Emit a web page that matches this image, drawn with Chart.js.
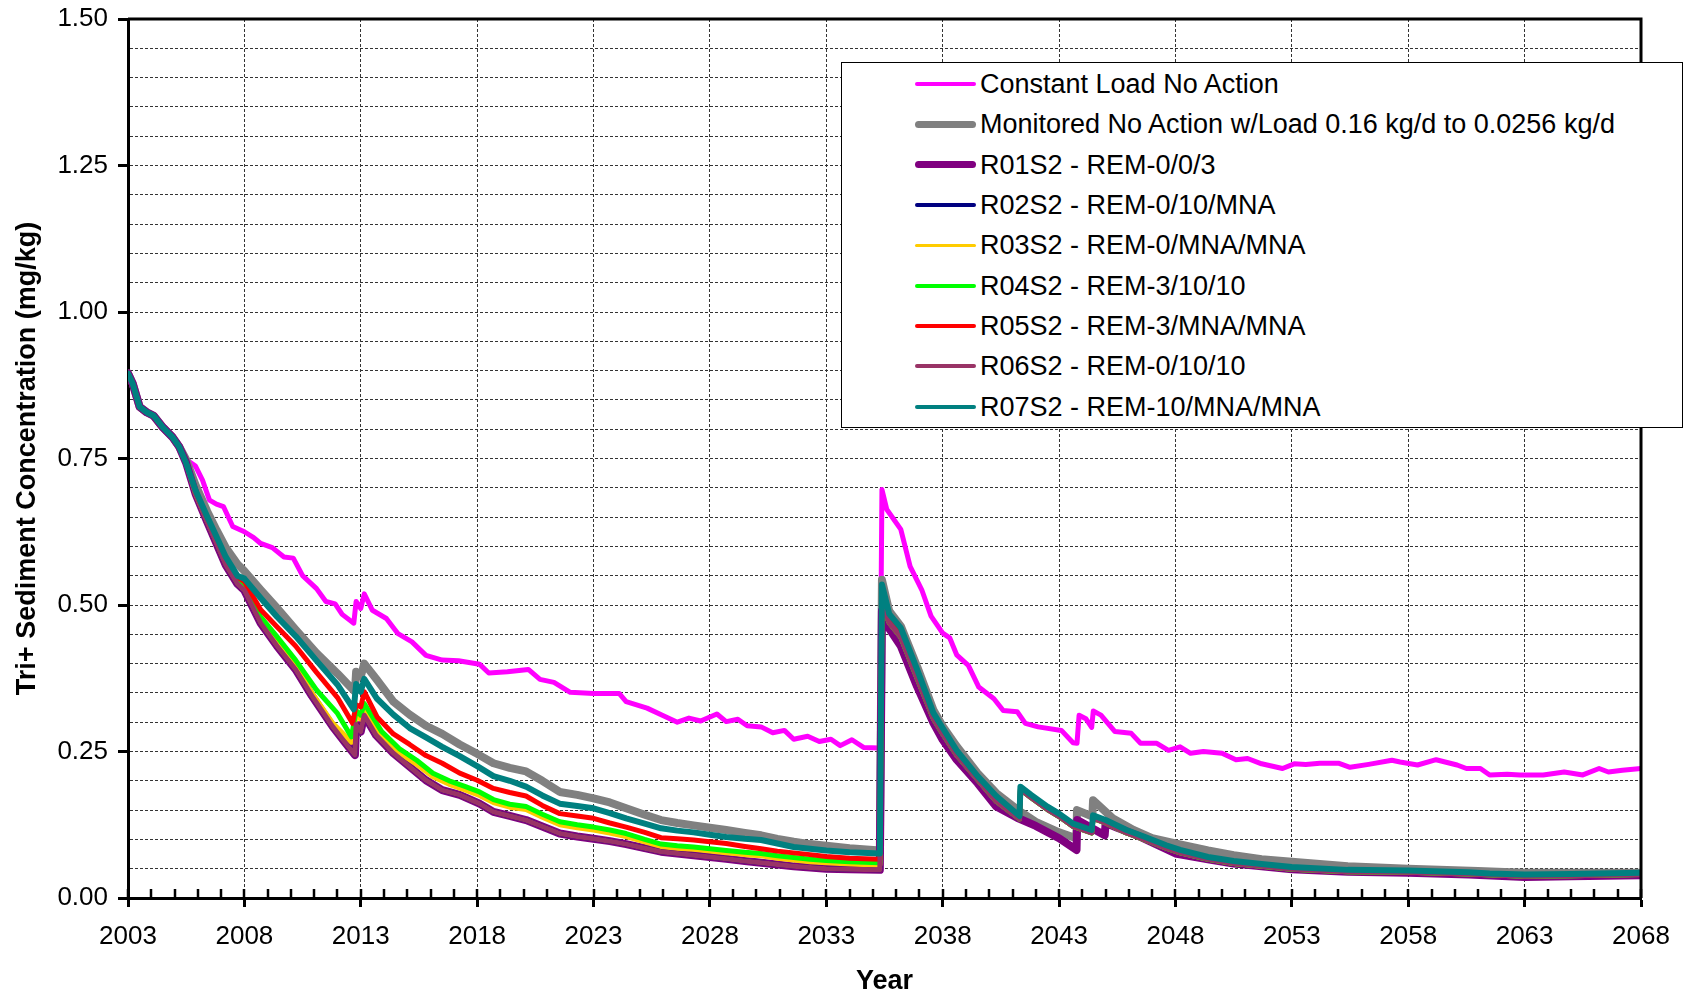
<!DOCTYPE html>
<html>
<head>
<meta charset="utf-8">
<script src="https://cdn.jsdelivr.net/npm/chart.js@4.4.0/dist/chart.umd.min.js"></script>
<style>
  body { margin: 0; background: #fff; }
  #wrap { position: relative; width: 1684px; height: 996px; }
  #legendBox {
    position: absolute; left: 841px; top: 62px; width: 840px; height: 364px;
    border: 1px solid #000; background: #fff;
    font-family: "Liberation Sans", Arial, sans-serif; font-size: 27px; color: #000;
  }
  .row { position: absolute; left: 0; width: 100%; height: 40px; }
  .swatch { position: absolute; left: 73px; width: 61px; border-radius: 4px; }
  .label { position: absolute; left: 138px; top: 0; white-space: nowrap; line-height: 40px; }
</style>
</head>
<body>
<div id="wrap">
  <canvas id="chart" width="1684" height="996"></canvas>
  <div id="legendBox"></div>
</div>
<script>
// x axis ticks (years) and y axis labelled ticks
const yearTicks = [2003, 2008, 2013, 2018, 2023, 2028, 2033, 2038, 2043, 2048, 2053, 2058, 2063, 2068];
const concTicks = [0, 0.25, 0.5, 0.75, 1.0, 1.25, 1.5];

const seriesNames = [
  'Constant Load No Action',
  'Monitored No Action w/Load 0.16 kg/d to 0.0256 kg/d',
  'R01S2 - REM-0/0/3',
  'R02S2 - REM-0/10/MNA',
  'R03S2 - REM-0/MNA/MNA',
  'R04S2 - REM-3/10/10',
  'R05S2 - REM-3/MNA/MNA',
  'R06S2 - REM-0/10/10',
  'R07S2 - REM-10/MNA/MNA'
];
const seriesColors = ['#ff00ff', '#808080', '#800080', '#000080', '#ffcc00', '#00ff00', '#ff0000', '#993366', '#008080'];
const lineWidths = [5, 8, 8, 5, 5, 5, 5, 5, 6];
const legendWidths = [3.5, 6.5, 7, 4, 3.5, 4, 4.5, 4, 4];

// [year, mg/kg] pairs
const startAll = [[2003.0, 0.895], [2003.2, 0.878], [2003.5, 0.838], [2003.8, 0.829], [2004.1, 0.823],
  [2004.5, 0.803], [2004.9, 0.787], [2005.2, 0.77]];

const constantLoad = [[2005.5, 0.748], [2005.9, 0.737], [2006.2, 0.713], [2006.5, 0.679], [2006.8, 0.672],
  [2007.1, 0.668], [2007.5, 0.634], [2008.0, 0.625], [2008.4, 0.615], [2008.7, 0.605], [2009.2, 0.598],
  [2009.7, 0.582], [2010.1, 0.58], [2010.5, 0.55], [2011.1, 0.528], [2011.5, 0.506], [2011.9, 0.502],
  [2012.2, 0.484], [2012.7, 0.469], [2012.8, 0.506], [2013.0, 0.494], [2013.15, 0.519], [2013.5, 0.491],
  [2014.1, 0.477], [2014.6, 0.451], [2015.2, 0.437], [2015.8, 0.414], [2016.5, 0.406], [2017.2, 0.405],
  [2018.1, 0.399], [2018.5, 0.384], [2019.3, 0.386], [2020.2, 0.39], [2020.7, 0.373], [2021.3, 0.368],
  [2022.0, 0.351], [2023.0, 0.349], [2024.1, 0.349], [2024.4, 0.335], [2025.3, 0.324], [2026.0, 0.311],
  [2026.6, 0.30], [2027.1, 0.307], [2027.6, 0.302], [2028.3, 0.314], [2028.7, 0.301], [2029.2, 0.305],
  [2029.6, 0.294], [2030.2, 0.292], [2030.7, 0.282], [2031.2, 0.286], [2031.6, 0.271], [2032.2, 0.276],
  [2032.7, 0.267], [2033.2, 0.271], [2033.6, 0.26], [2034.1, 0.27], [2034.6, 0.257], [2035.3, 0.256],
  [2035.39, 0.697], [2035.6, 0.663], [2036.2, 0.629], [2036.6, 0.566], [2037.1, 0.526], [2037.5, 0.481],
  [2038.0, 0.452], [2038.3, 0.444], [2038.6, 0.415], [2039.1, 0.397], [2039.55, 0.36], [2040.2, 0.34],
  [2040.6, 0.32], [2041.2, 0.318], [2041.55, 0.298], [2042.1, 0.292], [2043.1, 0.286], [2043.6, 0.265],
  [2043.77, 0.264], [2043.86, 0.312], [2044.15, 0.306], [2044.4, 0.291], [2044.47, 0.319], [2044.8, 0.312],
  [2045.4, 0.284], [2046.1, 0.281], [2046.5, 0.264], [2047.2, 0.264], [2047.7, 0.252], [2048.2, 0.258],
  [2048.65, 0.247], [2049.2, 0.25], [2050.0, 0.247], [2050.6, 0.236], [2051.1, 0.238], [2051.7, 0.229],
  [2052.6, 0.221], [2053.1, 0.229], [2053.6, 0.228], [2054.2, 0.23], [2055.0, 0.23], [2055.5, 0.223],
  [2056.3, 0.228], [2057.3, 0.235], [2057.65, 0.232], [2058.4, 0.227], [2059.2, 0.236], [2060.1, 0.227],
  [2060.5, 0.221], [2061.1, 0.221], [2061.5, 0.21], [2062.25, 0.211], [2062.8, 0.21], [2063.8, 0.21],
  [2064.7, 0.215], [2065.5, 0.21], [2066.2, 0.221], [2066.6, 0.215], [2067.2, 0.218], [2068.0, 0.221]];

const monitored = [[2005.5, 0.748], [2005.9, 0.705], [2006.4, 0.66], [2006.8, 0.628], [2007.2, 0.598],
  [2007.7, 0.57], [2008.0, 0.558], [2008.7, 0.526], [2009.4, 0.495], [2010.2, 0.458], [2011.1, 0.418],
  [2012.0, 0.383], [2012.75, 0.352], [2012.8, 0.386], [2013.0, 0.378], [2013.15, 0.40], [2013.7, 0.372],
  [2014.4, 0.335], [2015.1, 0.313], [2015.8, 0.294], [2016.5, 0.28], [2017.25, 0.262], [2018.0, 0.246],
  [2018.7, 0.23], [2019.4, 0.222], [2020.1, 0.216], [2020.8, 0.2], [2021.55, 0.181], [2022.3, 0.176],
  [2023.0, 0.17], [2023.7, 0.163], [2024.4, 0.153], [2025.2, 0.142], [2025.9, 0.133], [2026.6, 0.128],
  [2027.3, 0.124], [2028.0, 0.12], [2028.7, 0.116], [2029.5, 0.111], [2030.2, 0.107], [2030.9, 0.101],
  [2031.6, 0.096], [2032.3, 0.092], [2033.0, 0.089], [2034.0, 0.085], [2035.3, 0.081], [2035.39, 0.543],
  [2035.7, 0.49], [2036.2, 0.464], [2036.9, 0.395], [2037.6, 0.321], [2038.0, 0.293], [2038.6, 0.259],
  [2039.5, 0.213], [2040.3, 0.179], [2041.2, 0.151], [2042.0, 0.13], [2043.0, 0.112], [2043.74, 0.102],
  [2043.77, 0.15], [2044.43, 0.139], [2044.46, 0.167], [2045.3, 0.136], [2046.2, 0.116], [2047.0, 0.102],
  [2048.0, 0.093], [2049.4, 0.081], [2050.5, 0.073], [2051.7, 0.066], [2053.0, 0.062], [2055.4, 0.054],
  [2058.0, 0.05], [2061.0, 0.046], [2063.0, 0.043], [2068.0, 0.043]];

// R01 / R02 / R06 share the lowest path until 2035
const lowGroupPre = [[2005.5, 0.742], [2005.9, 0.69], [2006.4, 0.642], [2006.8, 0.605], [2007.2, 0.568],
  [2007.7, 0.536], [2008.0, 0.525], [2008.7, 0.469], [2009.4, 0.43], [2010.2, 0.39], [2010.9, 0.345],
  [2011.8, 0.292], [2012.35, 0.264], [2012.75, 0.244], [2012.8, 0.296], [2013.0, 0.284], [2013.15, 0.312],
  [2013.65, 0.278], [2014.4, 0.247], [2015.1, 0.224], [2015.8, 0.201], [2016.5, 0.184], [2017.25, 0.176],
  [2018.1, 0.161], [2018.7, 0.147], [2019.4, 0.14], [2020.1, 0.133], [2020.8, 0.122], [2021.55, 0.11],
  [2022.3, 0.105], [2023.0, 0.101], [2023.7, 0.097], [2024.4, 0.092], [2025.2, 0.085], [2025.9, 0.079],
  [2026.6, 0.076], [2027.3, 0.073], [2028.0, 0.07], [2028.7, 0.067], [2029.5, 0.063], [2030.2, 0.06],
  [2030.9, 0.057], [2031.6, 0.054], [2032.3, 0.052], [2033.0, 0.05], [2034.0, 0.049], [2035.3, 0.048]];

const r01Post = [[2035.39, 0.49], [2035.7, 0.46], [2036.2, 0.43], [2036.9, 0.361], [2037.6, 0.299],
  [2038.0, 0.27], [2038.6, 0.236], [2039.5, 0.196], [2040.3, 0.156], [2041.2, 0.137], [2042.0, 0.123],
  [2043.0, 0.102], [2043.75, 0.082], [2043.78, 0.133], [2044.96, 0.107], [2045.0, 0.128], [2045.5, 0.12],
  [2046.4, 0.106], [2048.0, 0.076], [2049.4, 0.066], [2050.5, 0.059], [2051.7, 0.054], [2053.0, 0.049],
  [2055.4, 0.045], [2058.0, 0.043], [2060.6, 0.04], [2063.0, 0.036], [2065.0, 0.037], [2068.0, 0.039]];

// R02, R03, R04, R06 after the 2035 event
const remGroupPost = [[2035.39, 0.50], [2035.7, 0.47], [2036.2, 0.445], [2036.9, 0.375], [2037.6, 0.306],
  [2038.0, 0.28], [2038.6, 0.244], [2039.5, 0.202], [2040.3, 0.165], [2041.3, 0.135], [2041.34, 0.185],
  [2041.8, 0.171], [2042.5, 0.151], [2043.0, 0.139], [2043.6, 0.122], [2044.4, 0.111], [2044.46, 0.136],
  [2045.0, 0.128], [2045.9, 0.111], [2046.7, 0.099], [2047.6, 0.085], [2048.2, 0.077], [2049.4, 0.066],
  [2050.5, 0.059], [2051.7, 0.054], [2053.0, 0.049], [2055.4, 0.045], [2058.0, 0.044], [2060.6, 0.041],
  [2063.0, 0.037], [2065.0, 0.038], [2068.0, 0.04]];

const r03Pre = [[2005.5, 0.742], [2005.9, 0.69], [2006.4, 0.643], [2006.8, 0.607], [2007.2, 0.571],
  [2007.7, 0.539], [2008.0, 0.528], [2008.7, 0.473], [2009.4, 0.435], [2010.2, 0.395], [2010.9, 0.35],
  [2011.8, 0.298], [2012.6, 0.266], [2012.8, 0.312], [2013.0, 0.305], [2013.15, 0.325], [2013.9, 0.276],
  [2014.65, 0.248], [2015.4, 0.228], [2016.1, 0.207], [2016.8, 0.194], [2017.5, 0.184], [2018.1, 0.175],
  [2018.7, 0.163], [2019.4, 0.155], [2020.1, 0.151], [2020.8, 0.138], [2021.55, 0.125], [2022.3, 0.12],
  [2023.0, 0.116], [2023.7, 0.111], [2024.4, 0.105], [2025.2, 0.096], [2025.9, 0.088], [2026.6, 0.085],
  [2027.3, 0.083], [2028.0, 0.08], [2028.7, 0.077], [2029.5, 0.074], [2030.2, 0.072], [2030.9, 0.068],
  [2031.6, 0.065], [2032.3, 0.062], [2033.0, 0.06], [2034.0, 0.058], [2035.3, 0.056]];

const r04Pre = [[2005.5, 0.742], [2005.9, 0.692], [2006.4, 0.645], [2006.8, 0.61], [2007.2, 0.574],
  [2007.7, 0.542], [2008.0, 0.531], [2008.7, 0.48], [2009.4, 0.446], [2010.2, 0.406], [2011.1, 0.355],
  [2012.0, 0.315], [2012.6, 0.275], [2012.8, 0.32], [2013.0, 0.312], [2013.15, 0.332], [2013.9, 0.284],
  [2014.65, 0.255], [2015.4, 0.235], [2016.1, 0.213], [2016.8, 0.2], [2017.5, 0.19], [2018.1, 0.181],
  [2018.7, 0.168], [2019.4, 0.16], [2020.1, 0.156], [2020.8, 0.143], [2021.55, 0.13], [2022.3, 0.125],
  [2023.0, 0.121], [2023.7, 0.116], [2024.4, 0.11], [2025.2, 0.1], [2025.9, 0.092], [2026.6, 0.089],
  [2027.3, 0.087], [2028.0, 0.084], [2028.7, 0.081], [2029.5, 0.078], [2030.2, 0.076], [2030.9, 0.072],
  [2031.6, 0.069], [2032.3, 0.066], [2033.0, 0.064], [2034.0, 0.062], [2035.3, 0.06]];

const r05 = [[2005.5, 0.742], [2005.9, 0.694], [2006.4, 0.648], [2006.8, 0.614], [2007.2, 0.578],
  [2007.7, 0.548], [2008.0, 0.54], [2008.7, 0.492], [2009.4, 0.463], [2010.2, 0.43], [2011.1, 0.385],
  [2012.0, 0.342], [2012.65, 0.298], [2012.8, 0.33], [2013.0, 0.326], [2013.15, 0.352], [2013.7, 0.309],
  [2014.4, 0.28], [2015.1, 0.262], [2015.8, 0.243], [2016.5, 0.23], [2017.25, 0.213], [2018.0, 0.201],
  [2018.7, 0.187], [2019.4, 0.18], [2020.1, 0.174], [2020.8, 0.158], [2021.55, 0.144], [2022.3, 0.14],
  [2023.0, 0.136], [2023.7, 0.128], [2024.4, 0.121], [2025.2, 0.112], [2025.9, 0.103], [2026.6, 0.101],
  [2027.3, 0.099], [2028.0, 0.096], [2028.7, 0.093], [2029.5, 0.088], [2030.2, 0.084], [2030.9, 0.08],
  [2031.6, 0.077], [2032.3, 0.074], [2033.0, 0.071], [2034.0, 0.068], [2035.3, 0.066],
  [2035.39, 0.52], [2035.7, 0.475], [2036.2, 0.452], [2036.9, 0.382], [2037.6, 0.31], [2038.0, 0.285],
  [2038.6, 0.247], [2039.5, 0.205], [2040.3, 0.17], [2041.3, 0.137], [2041.34, 0.187], [2041.8, 0.173],
  [2042.5, 0.153], [2043.0, 0.141], [2043.6, 0.124], [2044.4, 0.113], [2044.46, 0.138], [2045.0, 0.13],
  [2045.9, 0.113], [2046.7, 0.101], [2047.6, 0.087], [2048.2, 0.079], [2049.4, 0.068], [2050.5, 0.061],
  [2051.7, 0.056], [2053.0, 0.051], [2055.4, 0.046], [2058.0, 0.045], [2060.6, 0.042], [2063.0, 0.038],
  [2065.0, 0.039], [2068.0, 0.041]];

const r07 = [[2005.5, 0.742], [2005.9, 0.696], [2006.4, 0.651], [2006.8, 0.617], [2007.2, 0.582],
  [2007.7, 0.55], [2008.0, 0.545], [2008.7, 0.512], [2009.4, 0.48], [2010.2, 0.447], [2011.1, 0.405],
  [2012.0, 0.364], [2012.7, 0.322], [2012.8, 0.365], [2013.0, 0.352], [2013.15, 0.374], [2013.7, 0.34],
  [2014.4, 0.313], [2015.1, 0.29], [2015.8, 0.274], [2016.5, 0.258], [2017.25, 0.242], [2018.0, 0.225],
  [2018.7, 0.208], [2019.4, 0.2], [2020.1, 0.19], [2020.8, 0.175], [2021.55, 0.161], [2022.3, 0.157],
  [2023.0, 0.153], [2023.7, 0.145], [2024.4, 0.136], [2025.2, 0.127], [2025.9, 0.119], [2026.6, 0.115],
  [2027.3, 0.112], [2028.0, 0.108], [2028.7, 0.104], [2029.5, 0.101], [2030.2, 0.099], [2030.9, 0.093],
  [2031.6, 0.087], [2032.3, 0.084], [2033.0, 0.081], [2034.0, 0.078], [2035.3, 0.076],
  [2035.39, 0.535], [2035.7, 0.485], [2036.2, 0.461], [2036.9, 0.39], [2037.6, 0.316], [2038.0, 0.29],
  [2038.6, 0.252], [2039.5, 0.208], [2040.3, 0.174], [2041.3, 0.14], [2041.34, 0.19], [2041.8, 0.176],
  [2042.5, 0.156], [2043.0, 0.144], [2043.6, 0.127], [2044.4, 0.116], [2044.46, 0.141], [2045.0, 0.133],
  [2045.9, 0.116], [2046.7, 0.104], [2047.6, 0.09], [2048.2, 0.082], [2049.4, 0.07], [2050.5, 0.063],
  [2051.7, 0.058], [2053.0, 0.053], [2055.4, 0.048], [2058.0, 0.047], [2060.6, 0.044], [2061.5, 0.042],
  [2063.0, 0.04], [2065.0, 0.041], [2068.0, 0.043]];

const seriesData = [
  startAll.concat(constantLoad),
  startAll.concat(monitored),
  startAll.concat(lowGroupPre, r01Post),
  startAll.concat(lowGroupPre, remGroupPost),
  startAll.concat(r03Pre, remGroupPost),
  startAll.concat(r04Pre, remGroupPost),
  startAll.concat(r05),
  startAll.concat(lowGroupPre, remGroupPost),
  startAll.concat(r07)
];

const FONT = '"Liberation Sans", Arial, sans-serif';
const isMajor = v => Math.abs(v * 4 - Math.round(v * 4)) < 1e-6;

const datasets = seriesNames.map((name, i) => ({
  label: name,
  data: seriesData[i].map(p => ({x: p[0], y: p[1]})),
  borderColor: seriesColors[i],
  backgroundColor: seriesColors[i],
  borderWidth: lineWidths[i],
  pointRadius: 0,
  tension: 0,
  borderJoinStyle: 'round',
  borderCapStyle: 'round',
  order: seriesNames.length - i
}));

// frame on top/right plus small year ticks inside the plot
const framePlugin = {
  id: 'frame',
  afterDraw(chart) {
    const {ctx, chartArea: a, scales: {x}} = chart;
    ctx.save();
    ctx.strokeStyle = '#000';
    ctx.lineWidth = 3;
    ctx.beginPath();
    ctx.moveTo(a.left, a.top);
    ctx.lineTo(a.right, a.top);
    ctx.lineTo(a.right, a.bottom);
    ctx.stroke();
    ctx.lineWidth = 2.5;
    ctx.beginPath();
    for (let yr = yearTicks[0]; yr <= yearTicks[yearTicks.length - 1]; yr++) {
      const px = Math.round(x.getPixelForValue(yr));
      ctx.moveTo(px, a.bottom);
      ctx.lineTo(px, a.bottom - 9);
    }
    ctx.stroke();
    ctx.restore();
  }
};

new Chart(document.getElementById('chart'), {
  type: 'line',
  data: {datasets},
  options: {
    responsive: false,
    animation: false,
    devicePixelRatio: 1,
    layout: {padding: {left: 0, right: 43, top: 19, bottom: 0}},
    plugins: {legend: {display: false}, tooltip: {enabled: false}},
    scales: {
      x: {
        type: 'linear',
        min: 2003,
        max: 2068,
        afterBuildTicks: s => { s.ticks = yearTicks.map(v => ({value: v})); },
        afterFit: s => { s.height = 98; s.paddingLeft = 0; s.paddingRight = 0; },
        ticks: {
          autoSkip: false, maxRotation: 0, padding: 14, color: '#000',
          font: {family: FONT, size: 26},
          callback: v => String(v)
        },
        grid: {color: '#333', lineWidth: 1, tickLength: 9, tickWidth: 3, tickColor: '#000'},
        border: {display: true, color: '#000', width: 3, dash: [3, 2]},
        title: {display: true, text: 'Year', color: '#000',
          font: {family: FONT, size: 27, weight: 'bold', lineHeight: 1.0}, padding: {top: 0, bottom: 1}}
      },
      y: {
        min: 0,
        max: 1.5,
        afterBuildTicks: s => {
          const t = [];
          for (let k = 0; k <= 30; k++) t.push({value: +(k * 0.05).toFixed(2)});
          s.ticks = t;
        },
        afterFit: s => { s.width = 128; s.paddingTop = 0; s.paddingBottom = 0; },
        ticks: {
          autoSkip: false, padding: 10, color: '#000',
          font: {family: FONT, size: 26},
          callback: v => concTicks.some(c => Math.abs(c - v) < 1e-6) ? v.toFixed(2) : ''
        },
        grid: {
          color: '#333', lineWidth: 1, tickLength: 10, tickWidth: 3,
          tickColor: c => isMajor(c.tick.value) ? '#000' : 'rgba(0,0,0,0)'
        },
        border: {display: true, color: '#000', width: 3, dash: [3, 2]},
        title: {display: true, text: 'Tri+ Sediment Concentration (mg/kg)', color: '#000',
          font: {family: FONT, size: 27, weight: 'bold'}, padding: {top: 11, bottom: 0}}
      }
    }
  },
  plugins: [framePlugin]
});

// legend box drawn as html over the plot
const legendBox = document.getElementById('legendBox');
seriesNames.forEach((name, i) => {
  const row = document.createElement('div');
  row.className = 'row';
  row.style.top = (1 + i * 40.35) + 'px';
  const sw = document.createElement('div');
  sw.className = 'swatch';
  sw.style.height = legendWidths[i] + 'px';
  sw.style.top = (20 - legendWidths[i] / 2) + 'px';
  sw.style.background = seriesColors[i];
  const lab = document.createElement('div');
  lab.className = 'label';
  lab.textContent = name;
  row.appendChild(sw);
  row.appendChild(lab);
  legendBox.appendChild(row);
});
</script>
</body>
</html>
